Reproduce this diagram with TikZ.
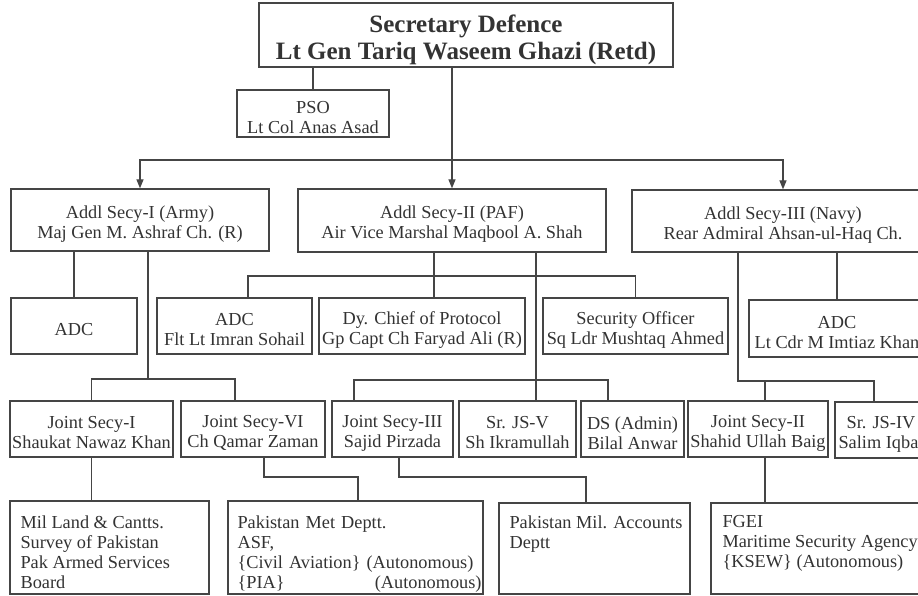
\documentclass[tikz,border=0pt]{standalone}
\usepackage{fontspec}
\setmainfont{Liberation Serif}
\usetikzlibrary{arrows.meta}
\definecolor{linec}{HTML}{454545}
\definecolor{textc}{HTML}{333333}
\tikzset{
  box/.style={draw=linec, line width=1.3bp, fill=white, inner sep=0pt},
  lbl/.style={inner sep=0pt, align=center, text=textc,
    font=\fontsize{18.3bp}{20bp}\selectfont},
  toplbl/.style={lbl, font=\fontsize{25bp}{27bp}\selectfont\bfseries},
  btext/.style={inner sep=0pt, anchor=north west, align=left, text=textc,
    font=\fontsize{18.3bp}{20bp}\selectfont},
  conn/.style={draw=linec, line width=1.3bp},
  arr/.style={conn, -{Triangle[length=9bp,width=7bp]}},
}
% name, centre, width, height, text
\newcommand\bx[5]{%
  \node[box, minimum width=#3bp, minimum height=#4bp] (#1) at (#2) {};
  \node[lbl] (#1-t) at ([yshift=-4bp]#1.center) {#5};}
\begin{document}
\begin{tikzpicture}[x=1bp,y=-1bp]
\clip (0,0) rectangle (918,596);
\fill[white] (0,0) rectangle (918,596);
% top
\node[box, minimum width=414bp, minimum height=64bp] (top) at (466,35) {};
\node[toplbl] (top-t) at ([yshift=-5bp]top.center) {Secretary Defence\\Lt Gen Tariq Waseem Ghazi (Retd)};
\bx{pso}{313,113.5}{152}{47}{PSO\\Lt Col Anas Asad}
% level 1
\bx{army}{140,220}{258}{62}{Addl Secy-I (Army)\\Maj Gen M. Ashraf Ch. (R)}
\bx{paf}{452,220.5}{308}{63}{Addl Secy-II (PAF)\\Air Vice Marshal Maqbool A. Shah}
\bx{navy}{783,221}{302}{62}{Addl Secy-III (Navy)\\Rear Admiral Ahsan-ul-Haq Ch.}
% level 2
\bx{adca}{74,326}{126}{56}{ADC}
\bx{adcb}{234.5,326}{155}{56}{ADC\\Flt Lt Imran Sohail}
\bx{dy}{422,326}{206}{56}{Dy. Chief of Protocol\\Gp Capt Ch Faryad Ali (R)}
\bx{sec}{635.5,326}{185}{56}{Security Officer\\Sq Ldr Mushtaq Ahmed}
\bx{adcc}{837,328.5}{176}{57}{ADC\\Lt Cdr M Imtiaz Khan}
% level 3
\bx{jsa}{91.5,429}{163}{56}{Joint Secy-I\\Shaukat Nawaz Khan}
\bx{jsf}{253,429}{144}{56}{Joint Secy-VI\\Ch Qamar Zaman}
\bx{jsc}{392.5,429}{121}{56}{Joint Secy-III\\Sajid Pirzada}
\bx{jse}{517.5,429}{117}{56}{Sr. JS-V\\Sh Ikramullah}
\bx{ds}{632.5,429}{103}{56}{DS (Admin)\\Bilal Anwar}
\bx{jsb}{758,429}{140}{56}{Joint Secy-II\\Shahid Ullah Baig}
\bx{jsd}{881,430}{92}{56}{Sr. JS-IV\\Salim Iqbal}
% level 4
\node[box, minimum width=199bp, minimum height=93bp] (mil) at (109.5,547.5) {};
\node[btext] (milt) at ([shift={(11,15)}]mil.north west) {Mil Land \& Cantts.\\Survey of Pakistan\\Pak Armed Services\\Board};
\node[box, minimum width=255bp, minimum height=93bp] (met) at (355.5,547.5) {};
\node[btext, text width=244bp] (mett) at ([shift={(10,15)}]met.north west) {Pakistan Met Deptt.\\ASF,\\\{Civil Aviation\} (Autonomous)\\\{PIA\}\hfill(Autonomous)};
\node[box, minimum width=191bp, minimum height=91bp] (acc) at (594.5,548.5) {};
\node[btext] (acct) at ([shift={(11,13)}]acc.north west) {Pakistan Mil. Accounts\\Deptt};
\node[box, minimum width=215bp, minimum height=91bp] (fgei) at (818.5,548.5) {};
\node[btext] (fgeit) at ([shift={(12,13)}]fgei.north west) {FGEI\\Maritime Security Agency\\\{KSEW\} (Autonomous)};
% coordinates
\coordinate (bus) at (452,160);
\coordinate (a2) at (148,379);
\coordinate (j6) at (235,379);
\coordinate (p1) at (434,276);
\coordinate (pl) at (248,276);
\coordinate (q1) at (536,380);
\coordinate (ql) at (354,380);
\coordinate (qr) at (608,380);
\coordinate (n1) at (738,381);
\coordinate (n2) at (765,381);
\coordinate (n3) at (874,381);
\coordinate (m1) at (264,477);
\coordinate (m2) at (358,477);
\coordinate (c1) at (399,477);
\coordinate (c2) at (586,477);
% connectors top
\draw[conn] (pso.north |- top.south) -- (pso.north);
\draw[conn] (top.south -| bus) -- (bus);
\draw[arr] (bus) -| (army.north);
\draw[arr] (bus) -| (navy.north);
\draw[arr] (bus) -- (paf.north);
% army
\draw[conn] (army.south -| adca.north) -- (adca.north);
\draw[conn] (army.south -| a2) -- (a2);
\draw[conn] (jsa.north) |- (j6) -- (j6 |- jsf.north);
% paf
\draw[conn] (paf.south -| p1) -- (p1 |- dy.north);
\draw[conn] (pl |- adcb.north) -- (pl) -| (sec.north);
\draw[conn] (paf.south -| q1) -- (q1 |- jse.north);
\draw[conn] (ql |- jsc.north) -- (ql) -- (qr) -- (qr |- ds.north);
% navy
\draw[conn] (navy.south -| n1) -- (n1) -- (n3) -- (n3 |- jsd.north);
\draw[conn] (n2) -- (n2 |- jsb.north);
\draw[conn] (navy.south -| adcc.north) -- (adcc.north);
% lower
\draw[conn] (jsa.south) -- (jsa.south |- mil.north);
\draw[conn] (jsf.south -| m1) -- (m1) -- (m2) -- (m2 |- met.north);
\draw[conn] (jsc.south -| c1) -- (c1) -- (c2) -- (c2 |- acc.north);
\draw[conn] (jsb.south -| n2) -- (n2 |- fgei.north);
\end{tikzpicture}
\end{document}
